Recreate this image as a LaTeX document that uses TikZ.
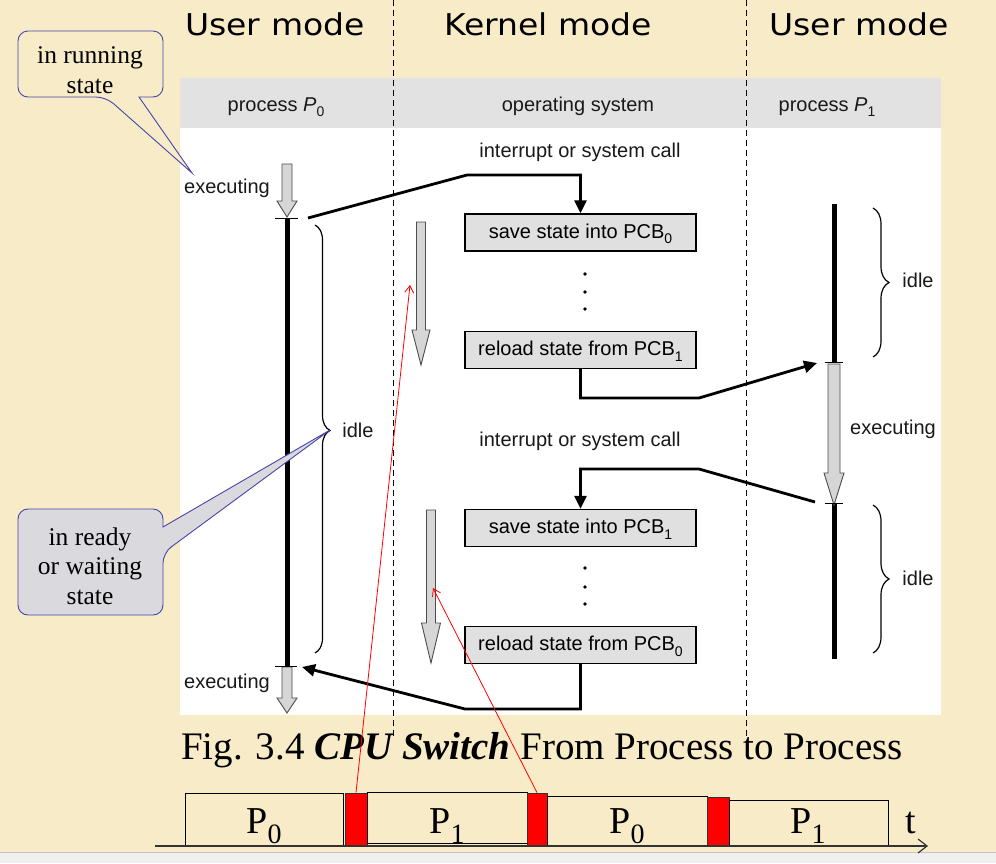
\documentclass[tikz,border=0pt]{standalone}
\usepackage{fontspec}
\usepackage{graphicx}
\setmainfont{Liberation Serif}
\newfontfamily\arialf{Liberation Sans}
\newfontfamily\titlef{DejaVu Sans}
\usetikzlibrary{arrows.meta,decorations.pathreplacing}
\definecolor{parch}{RGB}{248,235,200}
\definecolor{hdrgray}{RGB}{226,226,226}
\definecolor{boxgray}{RGB}{224,224,224}
\definecolor{callblue}{RGB}{70,70,170}
\definecolor{callgray}{RGB}{218,218,222}
\definecolor{arrgray}{RGB}{214,214,214}
\newcommand\blkarrow[6]{\draw[blockarrow] (#1-#5,#2) -- (#1+#5,#2) -- (#1+#5,#3) -- (#1+#6,#3) -- (#1,#4) -- (#1-#6,#3) -- (#1-#5,#3) -- cycle;}
\newcommand\sbsc[1]{\raisebox{-5.5pt}{\fontsize{14}{14}\selectfont\upshape #1}}
\tikzset{
  figtxt/.style={font=\arialf\fontsize{20}{24}\selectfont, inner sep=0pt, text=black!90},
  titletxt/.style={font=\titlef\fontsize{30}{36}\selectfont, inner sep=0pt},
  pcbbox/.style={draw=black, line width=1.4pt, fill=boxgray, minimum width=231pt, minimum height=37pt, inner sep=0pt, text height=15pt, text depth=4pt, font=\arialf\fontsize{20}{24}\selectfont},
  conn/.style={line width=2.8pt, -{Triangle[length=13pt,width=12pt]}},
  procline/.style={line width=5pt},
  tickln/.style={line width=1pt},
  blockarrow/.style={fill=arrgray, draw=black!70, line width=0.9pt},
  bracel/.style={line width=1.2pt},
  calloutA/.style={draw=callblue, line width=0.9pt, rounded corners=10pt},
  calltxt/.style={font=\fontsize{25.5}{29.5}\selectfont, align=center, inner sep=0pt},
  sep/.style={dash pattern=on 6pt off 4pt, line width=0.8pt},
  redarr/.style={draw=red, line width=0.8pt, -{Straight Barb[length=7pt,width=9pt]}},
  tbox/.style={draw=black, line width=0.8pt, inner sep=0pt},
  rbox/.style={draw=black!80, fill=red, line width=0.8pt, inner sep=0pt},
  biglbl/.style={font=\fontsize{38}{40}\selectfont, inner sep=0pt, anchor=base},
}
\begin{document}
\begin{tikzpicture}[x=1pt,y=-1pt]
\useasboundingbox (0,0) rectangle (996,863);
\fill[parch] (0,0) rectangle (996,863);
\fill[gray!12] (0,852) rectangle (996,863);
\draw[gray!45, line width=0.8pt] (0,852) -- (996,852);
% panel
\fill[white] (180,78) rectangle (941,715);
\fill[hdrgray] (180,78) rectangle (941,128);
% titles
\node[titletxt, anchor=base] (um1) at (275,35) {\scalebox{1.1}[1]{User mode}};
\node[titletxt, anchor=base] (km) at (548,35) {\scalebox{1.1}[1]{Kernel mode}};
\node[titletxt, anchor=base] (um2) at (859,35) {\scalebox{1.1}[1]{User mode}};
% headers
\node[figtxt, anchor=base] (h0) at (276,111) {process {\itshape P}\sbsc{0}};
\node[figtxt, anchor=base] (hos) at (578,111) {operating system};
\node[figtxt, anchor=base] (h1) at (827,111) {process {\itshape P}\sbsc{1}};
% separators
\coordinate (s1a) at (393,0); \coordinate (s1b) at (393,738);
\coordinate (s2a) at (746,0); \coordinate (s2b) at (746,738);
\draw[sep] (s1a) -- (s1b);
\draw[sep] (s2a) -- (s2b);
% process lines
\coordinate (p0top) at (287,218); \coordinate (p0bot) at (287,666);
\coordinate (p1a) at (834,204); \coordinate (p1b) at (834,362);
\coordinate (p1c) at (834,503); \coordinate (p1d) at (834,659);
\draw[procline] (p0top) -- (p0bot);
\draw[procline] (p1a) -- (p1b);
\draw[procline] (p1c) -- (p1d);
% block arrows
\blkarrow{287}{164}{201}{217}{5}{10}
\blkarrow{421}{222}{330}{365}{4.5}{9}
\blkarrow{834}{364}{473}{505}{6}{10}
\blkarrow{431}{510}{623}{663}{4.5}{9.5}
\blkarrow{287}{667}{698}{713}{5}{10}
% ticks
\draw[tickln] (275,218) -- (298,218);
\draw[tickln] (275,666) -- (297,666);
\draw[tickln] (825,362) -- (843,362);
\draw[tickln] (825,503) -- (843,503);
% boxes
\node[pcbbox] (save0) at (580.5,232.5) {save state into PCB\sbsc{0}};
\node[pcbbox] (reload1) at (580.5,350) {reload state from PCB\sbsc{1}};
\node[pcbbox] (save1) at (580.5,528) {save state into PCB\sbsc{1}};
\node[pcbbox] (reload0) at (580.5,645) {reload state from PCB\sbsc{0}};
% dots
\fill (585,274) circle (1.8pt);
\fill (585,292) circle (1.8pt);
\fill (585,309) circle (1.8pt);
\fill (585,568) circle (1.8pt);
\fill (585,587) circle (1.8pt);
\fill (585,604) circle (1.8pt);
% connectors
\coordinate (p0out) at (308,218); \coordinate (k1) at (467,175);
\coordinate (k2) at (699,398); \coordinate (p1in) at (817,363);
\coordinate (p1out) at (815,502); \coordinate (k3) at (699,469);
\coordinate (k4) at (465,709); \coordinate (p0in) at (302,667);
\draw[conn] (p0out) -- (k1) -| (save0.north);
\draw[conn] (reload1.south) |- (k2) -- (p1in);
\draw[conn] (p1out) -- (k3) -| (save1.north);
\draw[conn] (reload0.south) |- (k4) -- (p0in);
% braces
\draw[bracel, decorate, decoration={brace, amplitude=15pt, aspect=0.48}] (315,225) -- (315,653);
\draw[bracel, decorate, decoration={brace, amplitude=16pt, aspect=0.5}] (873,208) -- (873,357);
\draw[bracel, decorate, decoration={brace, amplitude=16pt, aspect=0.5}] (873,505) -- (873,653);
% labels
\node[figtxt, anchor=base] (int1) at (580,157) {interrupt or system call};
\node[figtxt, anchor=base] (int2) at (580,446) {interrupt or system call};
\node[figtxt, anchor=base] (ex0a) at (227,193) {executing};
\node[figtxt, anchor=base] (ex0b) at (227,688) {executing};
\node[figtxt, anchor=base] (ex1) at (893,434) {executing};
\node[figtxt, anchor=base] (idle0) at (358,437) {idle};
\node[figtxt, anchor=base] (idle1) at (918,287) {idle};
\node[figtxt, anchor=base] (idle2) at (918,585) {idle};
% callouts
\draw[calloutA, fill=parch] (90,31) -- (18,31) -- (18,97) -- (106,97) [sharp corners] -- (192,173) -- (139,97) [rounded corners=10pt] -- (163,97) -- (163,31) -- cycle;
\node[calltxt] (cA) at (90,70) {in running\\state};
\draw[calloutA, fill=callgray] (90,509) -- (18,509) -- (18,615) -- (163,615) -- (163,553) [sharp corners] -- (330,430) -- (163,527) [rounded corners=10pt] -- (163,509) -- cycle;
\node[calltxt] (cB) at (90,566) {in ready\\or waiting\\state};
% caption
\node[font=\fontsize{39}{45}\selectfont, inner sep=0pt, anchor=base] (cap) at (542,759) {Fig. 3.4 \textbf{\textit{CPU Switch}} From Process to Process};
% time line
\node[tbox, minimum width=158pt, minimum height=52pt] (b1) at (264,819) {};
\node[rbox, minimum width=22pt, minimum height=52pt] (r1) at (356,819) {};
\node[tbox, minimum width=160pt, minimum height=51pt] (b2) at (447,817.5) {};
\node[rbox, minimum width=20pt, minimum height=53pt] (r2) at (537,819.5) {};
\node[tbox, minimum width=160pt, minimum height=49pt] (b3) at (627,820.5) {};
\node[rbox, minimum width=22pt, minimum height=48pt] (r3) at (718,821) {};
\node[tbox, minimum width=159pt, minimum height=45pt] (b4) at (808.5,822.5) {};
\node[biglbl] (l1) at (264,833) {P\raisebox{-10pt}{\fontsize{28}{28}\selectfont 0}};
\node[biglbl] (l2) at (447,833) {P\raisebox{-10pt}{\fontsize{28}{28}\selectfont 1}};
\node[biglbl] (l3) at (627,833) {P\raisebox{-10pt}{\fontsize{28}{28}\selectfont 0}};
\node[biglbl] (l4) at (808,833) {P\raisebox{-10pt}{\fontsize{28}{28}\selectfont 1}};
\coordinate (ax0) at (155,846); \coordinate (ax1) at (928,846);
\draw[line width=1.2pt, black!80, -{Straight Barb[length=9pt,width=14pt]}] (ax0) -- (ax1);
\node[biglbl] (tl) at (911,833) {t};
% red annotations
\coordinate (ra1) at (410,285); \coordinate (ra2) at (433,588);
\draw[redarr] (r1.north) -- (ra1);
\draw[redarr] (r2.north) -- (ra2);
\end{tikzpicture}
\end{document}
